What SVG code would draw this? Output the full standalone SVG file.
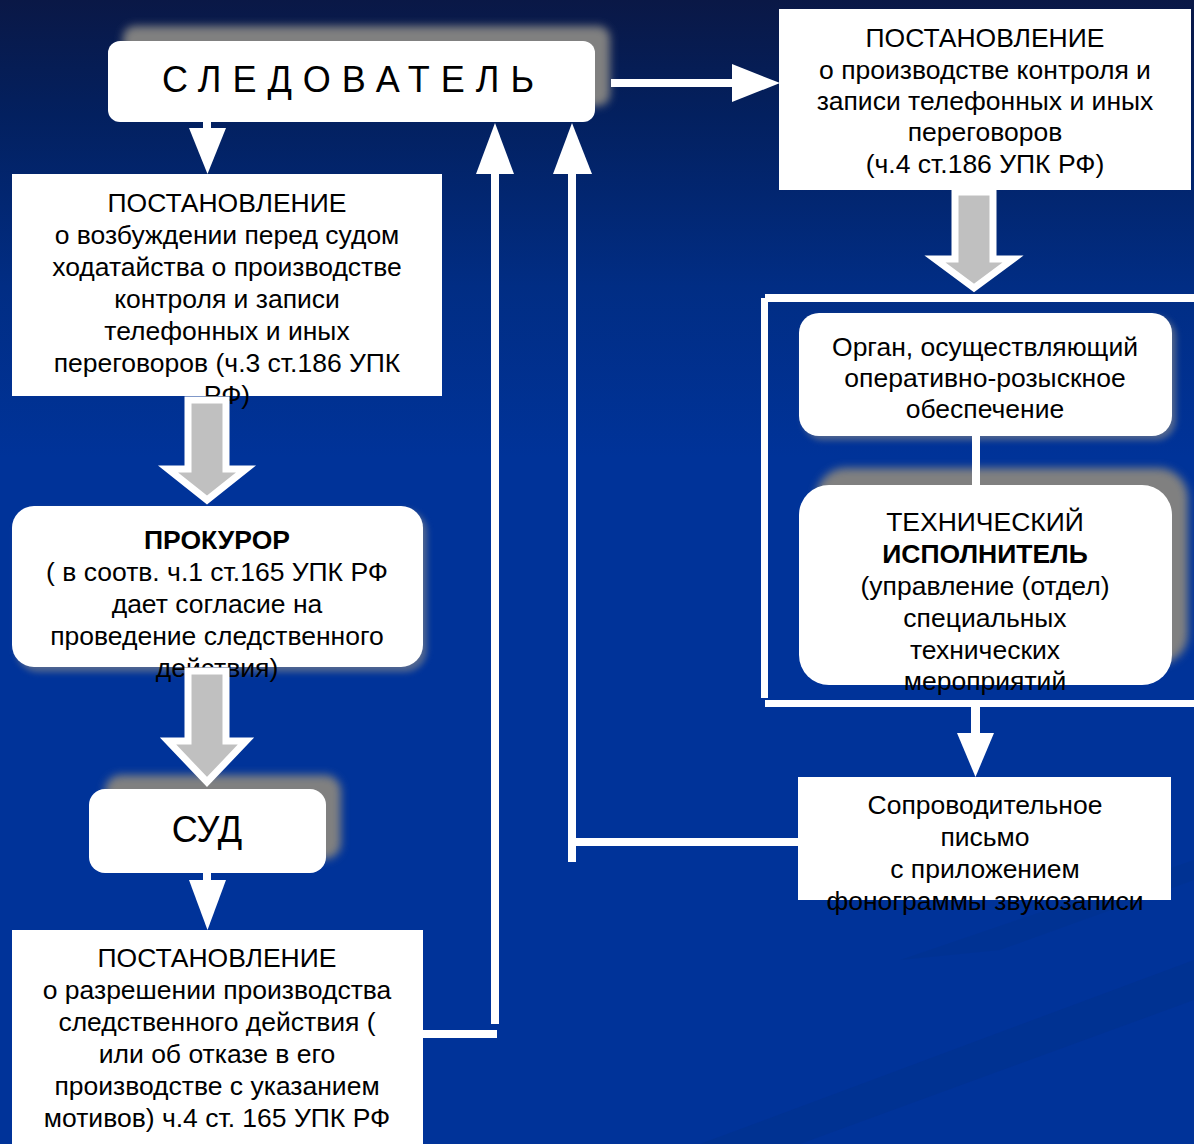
<svg xmlns="http://www.w3.org/2000/svg" width="1194" height="1144" viewBox="0 0 1194 1144">
<defs>
<linearGradient id="bg" x1="0" y1="0" x2="0" y2="1">
<stop offset="0" stop-color="#0a1846"/>
<stop offset="0.1" stop-color="#03205f"/>
<stop offset="0.25" stop-color="#012d84"/>
<stop offset="0.4" stop-color="#003399"/>
<stop offset="1" stop-color="#003399"/>
</linearGradient>
<filter id="blur" x="-10%" y="-20%" width="120%" height="140%">
<feGaussianBlur stdDeviation="4"/>
</filter>
<filter id="soft" x="-10%" y="-20%" width="120%" height="140%">
<feGaussianBlur stdDeviation="3"/>
</filter>
<style>
.t{font-family:"Liberation Sans",Arial,sans-serif;font-size:26.5px;fill:#000;text-anchor:middle}
.b{font-weight:bold}
.box{fill:#fff}
.shadow{fill:#808080;filter:url(#blur)}
.glow{fill:#8a8a8a;opacity:0.6;filter:url(#soft)}
.fat{fill:#c0c0c0;stroke:#fff;stroke-width:7;stroke-linejoin:miter}
.w{fill:#fff}
</style>
</defs>
<rect width="1194" height="1144" fill="url(#bg)"/>
<polygon points="700,1144 1194,960 1194,1000 800,1144" fill="#00307f" opacity="0.25"/>
<polygon points="900,960 1194,860 1194,880 1000,950" fill="#00307f" opacity="0.2"/>

<g id="sledovatel">
<rect class="shadow" x="123" y="26" width="487" height="80" rx="12"/>
<rect class="box" x="108" y="41" width="487" height="81" rx="12"/>
<text x="162" y="92" style="font-family:'Liberation Sans',Arial,sans-serif;font-size:36px;letter-spacing:11px" fill="#000">СЛЕДОВАТЕЛЬ</text>
</g>

<g id="postanovlenie-hodataystvo">
<rect class="box" x="12" y="174" width="430" height="222"/>
<text class="t" x="227" y="212">ПОСТАНОВЛЕНИЕ</text>
<text class="t" x="227" y="244">о возбуждении перед судом</text>
<text class="t" x="227" y="276">ходатайства о производстве</text>
<text class="t" x="227" y="308">контроля и записи</text>
<text class="t" x="227" y="340">телефонных и иных</text>
<text class="t" x="227" y="372">переговоров (ч.3 ст.186 УПК</text>
<text class="t" x="227" y="404">РФ)</text>
</g>

<g id="prokuror">
<rect class="glow" x="16" y="510" width="411" height="162" rx="22"/>
<rect class="box" x="12" y="506" width="411" height="161" rx="22"/>
<text class="t b" x="217" y="549">ПРОКУРОР</text>
<text class="t" x="217" y="581">( в соотв. ч.1 ст.165 УПК РФ</text>
<text class="t" x="217" y="613">дает согласие на</text>
<text class="t" x="217" y="645">проведение следственного</text>
<text class="t" x="217" y="677">действия)</text>
</g>

<g id="sud">
<rect class="shadow" x="105" y="775" width="236" height="84" rx="16"/>
<rect class="box" x="89" y="789" width="237" height="84" rx="16"/>
<text class="t" x="207" y="842" style="font-size:36px">СУД</text>
</g>

<g id="postanovlenie-razreshenie">
<rect class="box" x="12" y="930" width="411" height="220"/>
<text class="t" x="217" y="967">ПОСТАНОВЛЕНИЕ</text>
<text class="t" x="217" y="999">о разрешении производства</text>
<text class="t" x="217" y="1031">следственного действия (</text>
<text class="t" x="217" y="1063">или об отказе в его</text>
<text class="t" x="217" y="1095">производстве с указанием</text>
<text class="t" x="217" y="1127">мотивов) ч.4 ст. 165 УПК РФ</text>
</g>

<g id="postanovlenie-kontrol">
<rect class="box" x="779" y="9" width="412" height="181"/>
<text class="t" x="985" y="47">ПОСТАНОВЛЕНИЕ</text>
<text class="t" x="985" y="79">о производстве контроля и</text>
<text class="t" x="985" y="110">записи телефонных и иных</text>
<text class="t" x="985" y="141">переговоров</text>
<text class="t" x="985" y="173">(ч.4 ст.186 УПК РФ)</text>
</g>

<g id="bracket">
<rect class="w" x="761" y="298" width="7" height="400"/>
<rect class="w" x="765" y="294" width="430" height="8"/>
<rect class="w" x="765" y="700" width="430" height="7"/>
</g>

<g id="organ">
<rect class="glow" x="803" y="317" width="373" height="123" rx="20"/>
<rect class="box" x="799" y="313" width="373" height="123" rx="20"/>
<text class="t" x="985" y="356">Орган, осуществляющий</text>
<text class="t" x="985" y="387">оперативно-розыскное</text>
<text class="t" x="985" y="418">обеспечение</text>
</g>

<g id="tech-ispolnitel">
<rect class="shadow" x="816" y="468" width="372" height="196" rx="30"/>
<rect class="box" x="799" y="485" width="373" height="200" rx="30"/>
<text class="t" x="985" y="531">ТЕХНИЧЕСКИЙ</text>
<text class="t b" x="985" y="563">ИСПОЛНИТЕЛЬ</text>
<text class="t" x="985" y="595">(управление (отдел)</text>
<text class="t" x="985" y="627">специальных</text>
<text class="t" x="985" y="659">технических</text>
<text class="t" x="985" y="690">мероприятий</text>
</g>

<g id="soprovoditelnoe">
<rect class="box" x="798" y="777" width="373" height="123"/>
<text class="t" x="985" y="814">Сопроводительное</text>
<text class="t" x="985" y="846">письмо</text>
<text class="t" x="985" y="878">с приложением</text>
<text class="t" x="985" y="910">фонограммы звукозаписи</text>
</g>

<g id="connectors">
<rect class="w" x="203" y="121" width="8" height="10"/>
<polygon class="w" points="189,128 226,128 207.5,174"/>
<rect class="w" x="611" y="79" width="122" height="8"/>
<polygon class="w" points="732,64 732,102 780,83"/>
<path class="fat" d="M955,192 L993,192 L993,259 L1013,259 L974,288 L935,259 L955,259 Z"/>
<path class="fat" d="M188,400 L226,400 L226,469 L246,469 L207,500 L168,469 L188,469 Z"/>
<path class="fat" d="M188,671 L226,671 L226,741 L246,741 L207,782 L168,741 L188,741 Z"/>
<rect class="w" x="203" y="872" width="8" height="10"/>
<polygon class="w" points="189,880 226,880 207.5,930"/>
<rect class="w" x="423" y="1030" width="74" height="8"/>
<rect class="w" x="491" y="170" width="8" height="854"/>
<polygon class="w" points="476,174 514,174 495,123"/>
<rect class="w" x="972" y="434" width="8" height="54"/>
<rect class="w" x="971" y="705" width="9" height="30"/>
<polygon class="w" points="957,733 994,733 975.5,777"/>
<rect class="w" x="573" y="838" width="226" height="8"/>
<rect class="w" x="568" y="170" width="8" height="692"/>
<polygon class="w" points="553,174 592,174 572,123"/>
</g>
</svg>
